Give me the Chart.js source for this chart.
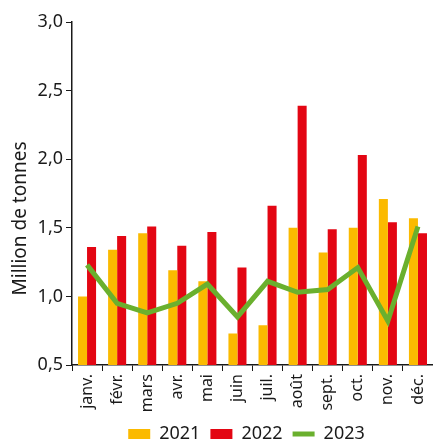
<!DOCTYPE html>
<html>
<head>
<meta charset="utf-8">
<script src="https://cdn.jsdelivr.net/npm/chart.js@4"></script>
<style>
  html, body { margin: 0; padding: 0; background: #fff; }
  #wrap { width: 433px; height: 441px; }
</style>
</head>
<body>
<div id="wrap"><canvas id="myChart"></canvas></div>
<script>
const months = ["janv.", "févr.", "mars", "avr.", "mai", "juin", "juil.", "août", "sept.", "oct.", "nov.", "déc."];
const values2021 = [1.0, 1.34, 1.46, 1.19, 1.11, 0.73, 0.79, 1.5, 1.32, 1.5, 1.71, 1.57];
const values2022 = [1.36, 1.44, 1.51, 1.37, 1.47, 1.21, 1.66, 2.39, 1.49, 2.03, 1.54, 1.46];
const values2023 = [1.23, 0.95, 0.88, 0.95, 1.09, 0.85, 1.11, 1.03, 1.05, 1.21, 0.82, 1.51];
const yTicks = [0.5, 1.0, 1.5, 2.0, 2.5, 3.0];
const yTitle = "Million de tonnes";

const fontFamily = "'Noto Sans', 'Open Sans', sans-serif";
const ink = "#1a1a1a";

Chart.defaults.font.family = fontFamily;
Chart.defaults.color = ink;

// pull the legend closer to the x labels and nudge it under the plot
const tightLegend = {
  id: "tightLegend",
  beforeInit(chart) {
    const legend = chart.legend;
    const fit = legend.fit;
    legend.fit = function () {
      fit.bind(legend)();
      this.height -= 12;
    };
    const draw = legend.draw;
    legend.draw = function () {
      chart.ctx.save();
      chart.ctx.translate(26, 0);
      draw.bind(legend)();
      chart.ctx.restore();
    };
  },
};

// y title sits a bit below the middle of the axis in the original
const yTitlePlugin = {
  id: "yTitlePlugin",
  afterDraw(chart) {
    const c = chart.ctx;
    const area = chart.chartArea;
    c.save();
    c.translate(21, (area.top + area.bottom) / 2 + 25);
    c.rotate(-Math.PI / 2);
    c.font = "19px " + fontFamily;
    c.fillStyle = ink;
    c.textAlign = "center";
    c.textBaseline = "middle";
    c.fillText(yTitle, 0, 0);
    c.restore();
  },
};

const ctx = document.getElementById("myChart");

new Chart(ctx, {
  type: "bar",
  data: {
    labels: months,
    datasets: [
      {
        label: "2021",
        data: values2021,
        backgroundColor: "#fbba00",
        pointStyle: "rect",
        categoryPercentage: 0.6,
        barPercentage: 1,
        order: 2,
      },
      {
        label: "2022",
        data: values2022,
        backgroundColor: "#e30613",
        pointStyle: "rect",
        categoryPercentage: 0.6,
        barPercentage: 1,
        order: 2,
      },
      {
        type: "line",
        label: "2023",
        data: values2023,
        borderColor: "#6ab02e",
        backgroundColor: "#6ab02e",
        borderWidth: 5,
        pointRadius: 0,
        pointStyle: "line",
        tension: 0,
        order: 1,
      },
    ],
  },
  options: {
    responsive: true,
    maintainAspectRatio: false,
    animation: false,
    layout: { padding: { top: 22, right: 0, left: 8, bottom: 0 } },
    scales: {
      x: {
        grid: {
          drawOnChartArea: false,
          drawTicks: true,
          tickLength: 6,
          color: ink,
          offset: true,
        },
        border: { display: true, color: ink, width: 1.5 },
        ticks: {
          minRotation: 90,
          maxRotation: 90,
          padding: 3,
          font: { size: 16 },
          color: ink,
        },
        afterFit: (scale) => {
          scale.height = 50;
          scale.paddingRight = 0;
          scale.paddingLeft = 0;
        },
      },
      y: {
        min: 0.5,
        max: 3.0,
        afterBuildTicks: (scale) => {
          scale.ticks = yTicks.map((v) => ({ value: v }));
        },
        grid: {
          drawOnChartArea: false,
          drawTicks: true,
          tickLength: 6,
          color: ink,
        },
        border: { display: true, color: ink, width: 1.5 },
        ticks: {
          padding: 3,
          font: { size: 18 },
          color: ink,
          callback: (v) => v.toFixed(1).replace(".", ","),
        },
        afterFit: (scale) => { scale.width = 64; },
      },
    },
    plugins: {
      legend: {
        position: "bottom",
        labels: {
          usePointStyle: true,
          pointStyleWidth: 22,
          boxHeight: 10,
          padding: 10,
          font: { size: 18 },
          color: ink,
          sort: (a, b) => a.datasetIndex - b.datasetIndex,
        },
      },
      tooltip: { enabled: false },
    },
  },
  plugins: [tightLegend, yTitlePlugin],
});
</script>
</body>
</html>
